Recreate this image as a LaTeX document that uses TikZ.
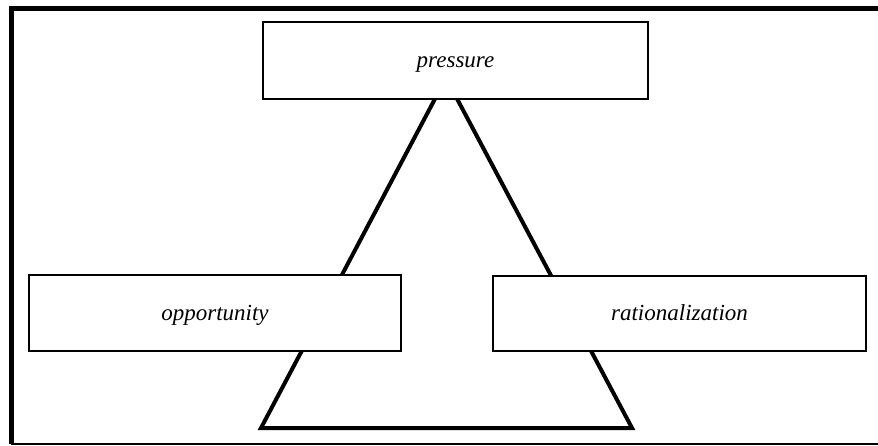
\documentclass[tikz,border=0pt]{standalone}
\usepackage{fontspec}
\setmainfont{Liberation Serif}
\begin{document}
\begin{tikzpicture}[x=1pt,y=-1pt,
  factor/.style={draw=black, line width=1.6pt, fill=white, inner sep=0pt,
    text height=17pt, text depth=3pt,
    font=\fontsize{23}{26}\selectfont\itshape},
  triline/.style={line width=4pt, line join=miter}]
\useasboundingbox (0,0) rectangle (878,446);
% outer frame (no right side)
\draw[line width=5pt] (878,8.5) -- (11,8.5) -- (11,444);
\draw[line width=1.5pt] (11,444) -- (878,444);
% triangle
\coordinate (apex) at (446,78);
\coordinate (bl) at (261,428);
\coordinate (br) at (632,428);
\draw[triline] (apex) -- (bl) -- (br) -- cycle;
% boxes
\node[factor, minimum width=385pt, minimum height=77pt] (pressure) at (455.5,60.5) {pressure};
\node[factor, minimum width=372pt, minimum height=76pt] (opportunity) at (215,313) {opportunity};
\node[factor, minimum width=373pt, minimum height=75pt] (rational) at (679.5,313.5) {rationalization};
\end{tikzpicture}
\end{document}
